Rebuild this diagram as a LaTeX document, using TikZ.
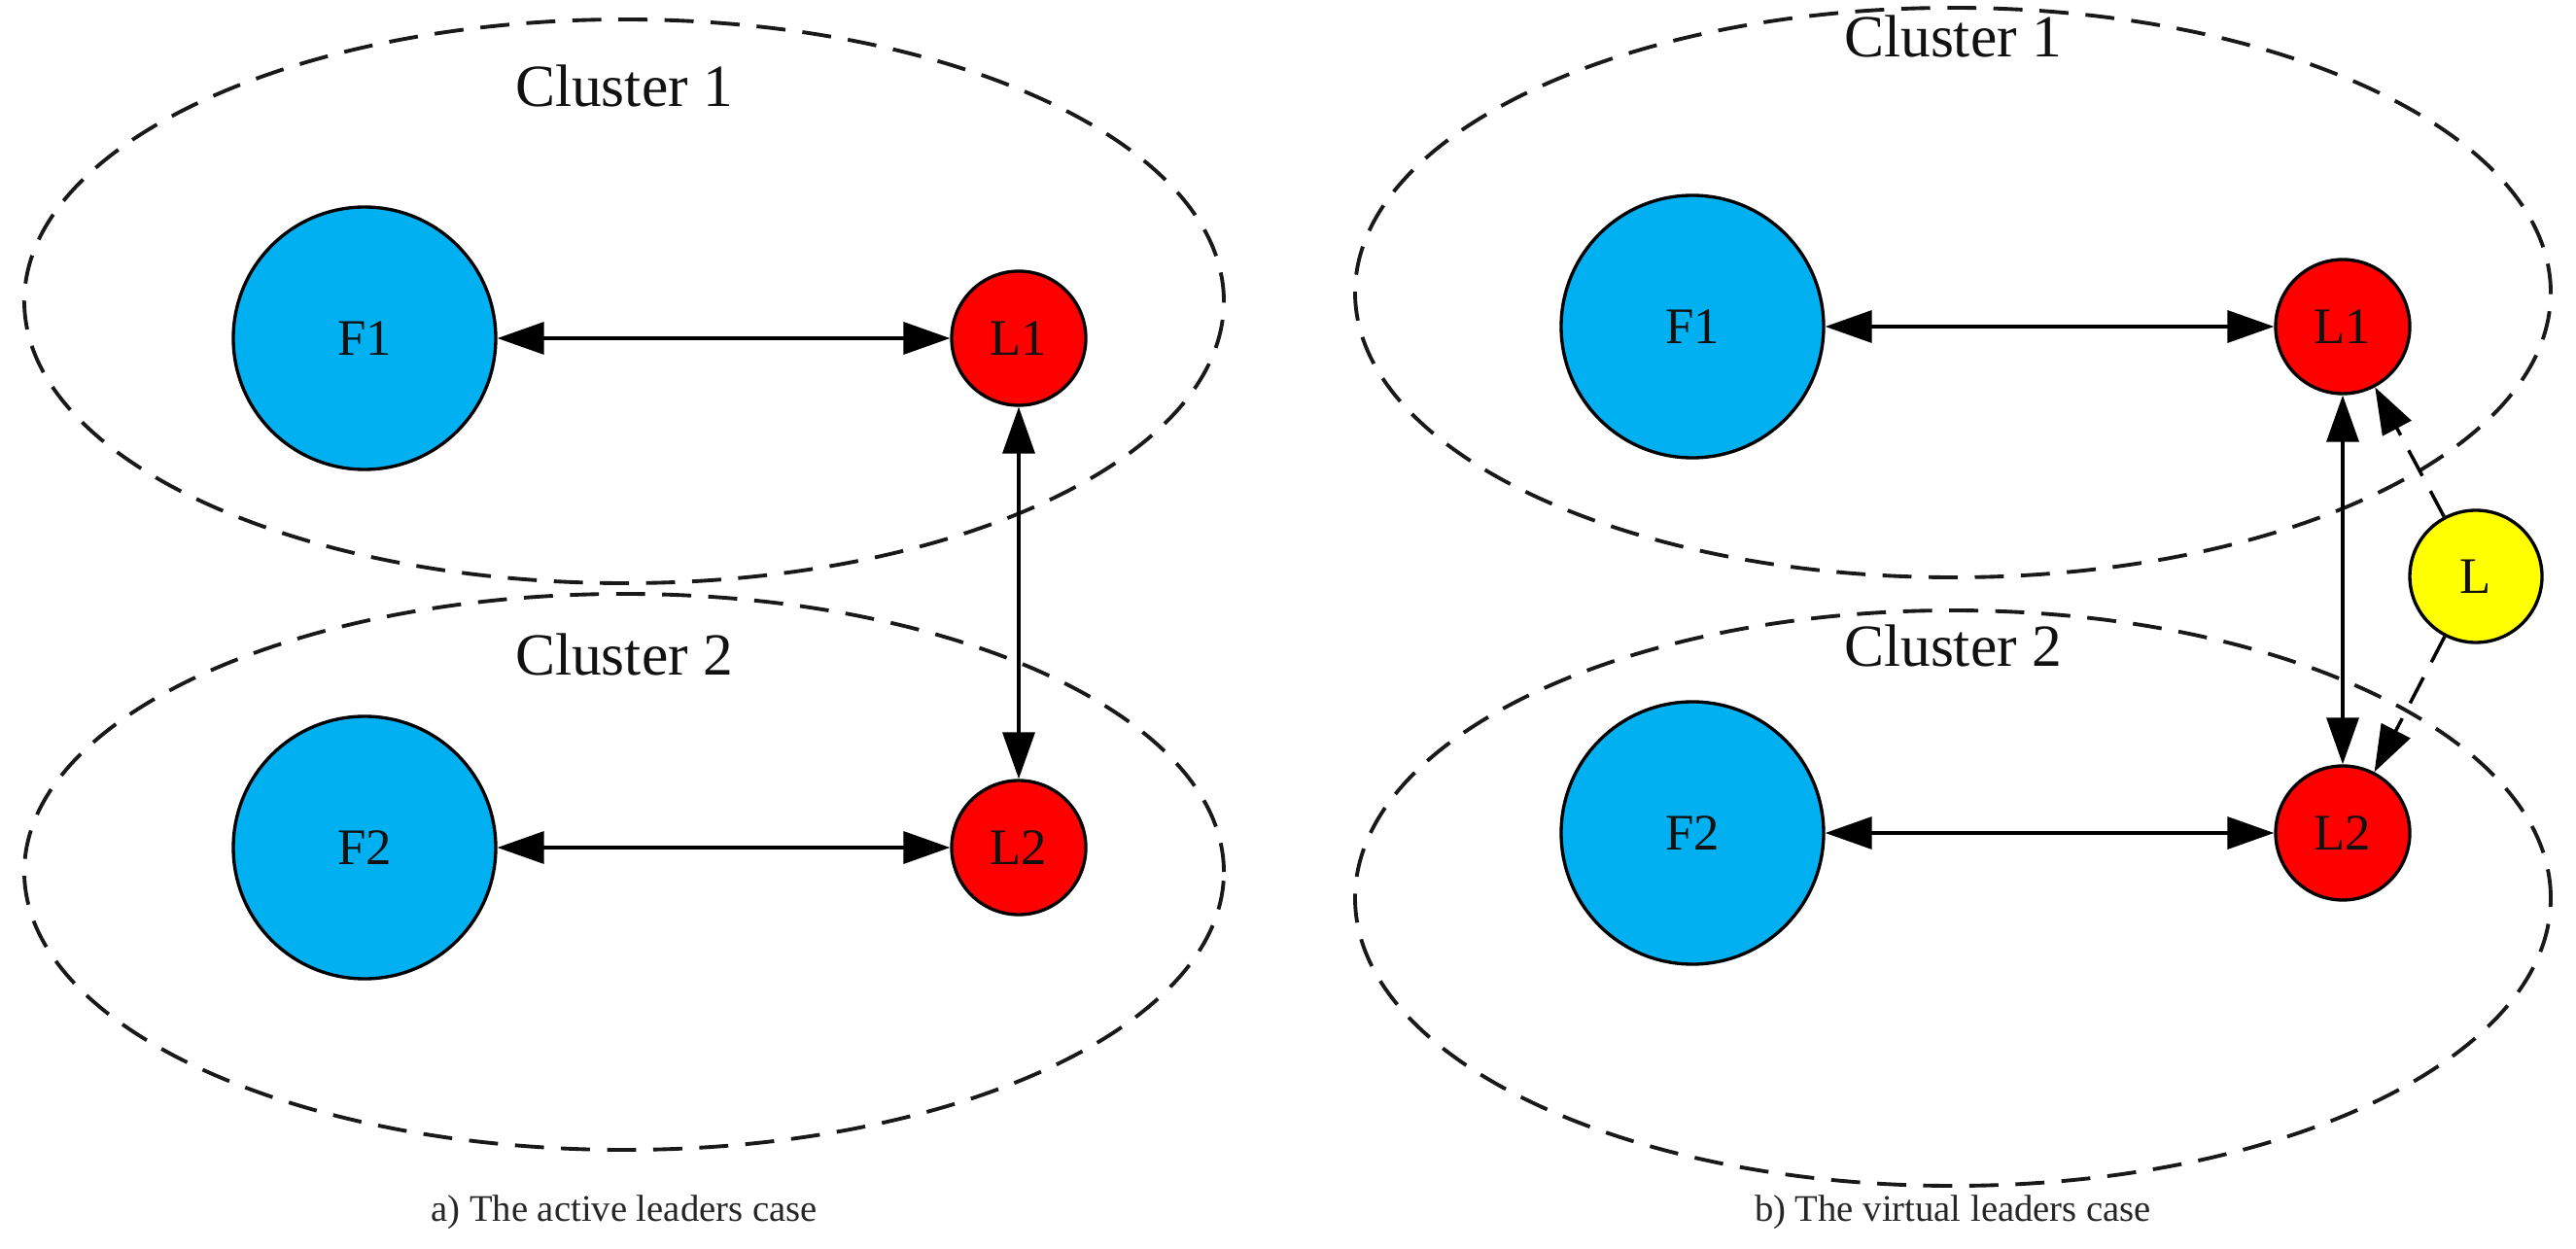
\documentclass[tikz,border=0pt]{standalone}
\usepackage{fontspec}
\setmainfont{Liberation Serif}
\usepackage{tikz}
\usetikzlibrary{
  arrows.meta,
  positioning,
  shapes.geometric
}
\definecolor{LdrBlue}{HTML}{00B0F0}
\definecolor{LdrRed}{HTML}{FF0000}
\definecolor{LdrYellow}{HTML}{FFFF00}
\definecolor{LdrBlack}{HTML}{111111}
\tikzset{
  every node/.style = {text=LdrBlack},
  agent/.style = {
    circle,
    draw=black,
    line width=0.95pt,
    inner sep=0pt,
    font=\fontsize{15}{18}\selectfont
  },
  follower/.style = {agent, fill=LdrBlue, minimum size=2.70cm},
  leader/.style = {agent, fill=LdrRed, minimum size=1.38cm},
  virtual leader/.style = {agent, fill=LdrYellow, minimum size=1.36cm},
  cluster box/.style = {
    ellipse,
    draw=black!90,
    dash pattern=on 8.5pt off 5pt,
    line width=1.1pt,
    inner sep=0pt
  },
  cluster label/.style = {font=\fontsize{17.5}{20}\selectfont},
  caption label/.style = {font=\fontsize{11}{13}\selectfont, text=black!85},
  link/.style = {{Triangle[length=4.8mm,width=3.3mm]}-{Triangle[length=4.8mm,width=3.3mm]}, draw=black, line width=1.0pt},
  link virtual/.style = {-{Triangle[length=4.8mm,width=3.3mm]}, draw=black, line width=1.0pt, dash pattern=on 8.5pt off 5pt},
}

\begin{document}
\begin{tikzpicture}[x=1cm,y=1cm]
  \useasboundingbox (0,0) rectangle (26.50,12.84);

  % a) active leaders
  \node[cluster box, minimum width=12.34cm, minimum height=5.80cm] (aclu1) at (6.42,9.74) {};
  \node[cluster box, minimum width=12.34cm, minimum height=5.72cm] (aclu2) at (6.42,3.87) {};
  \node[cluster label] (alab1) at (6.42,11.96) {Cluster 1};
  \node[cluster label] (alab2) at (6.42,6.11) {Cluster 2};

  \node[follower] (aF1) at (3.75,9.36) {F1};
  \node[leader] (aL1) at (10.48,9.36) {L1};
  \node[follower] (aF2) at (3.75,4.12) {F2};
  \node[leader] (aL2) at (10.48,4.12) {L2};

  \draw[link] (aF1) -- (aL1);
  \draw[link] (aF2) -- (aL2);
  \draw[link] (aL1) -- (aL2);

  \node[caption label] (acap) at (6.42,0.37) {a) The active leaders case};

  % b) virtual leaders
  \node[cluster box, minimum width=12.30cm, minimum height=5.86cm] (bclu1) at (20.09,9.83) {};
  \node[cluster box, minimum width=12.30cm, minimum height=5.92cm] (bclu2) at (20.09,3.60) {};
  \node[cluster label] (blab1) at (20.09,12.47) {Cluster 1};
  \node[cluster label] (blab2) at (20.09,6.20) {Cluster 2};

  \node[follower] (bF1) at (17.41,9.48) {F1};
  \node[leader] (bL1) at (24.10,9.48) {L1};
  \node[follower] (bF2) at (17.41,4.27) {F2};
  \node[leader] (bL2) at (24.10,4.27) {L2};
  \node[virtual leader] (bL) at (25.47,6.91) {L};

  \draw[link] (bF1) -- (bL1);
  \draw[link] (bF2) -- (bL2);
  \draw[link] (bL1) -- (bL2);
  \draw[link virtual] (bL) -- (bL1);
  \draw[link virtual] (bL) -- (bL2);

  \node[caption label] (bcap) at (20.09,0.37) {b) The virtual leaders case};
\end{tikzpicture}
\end{document}
